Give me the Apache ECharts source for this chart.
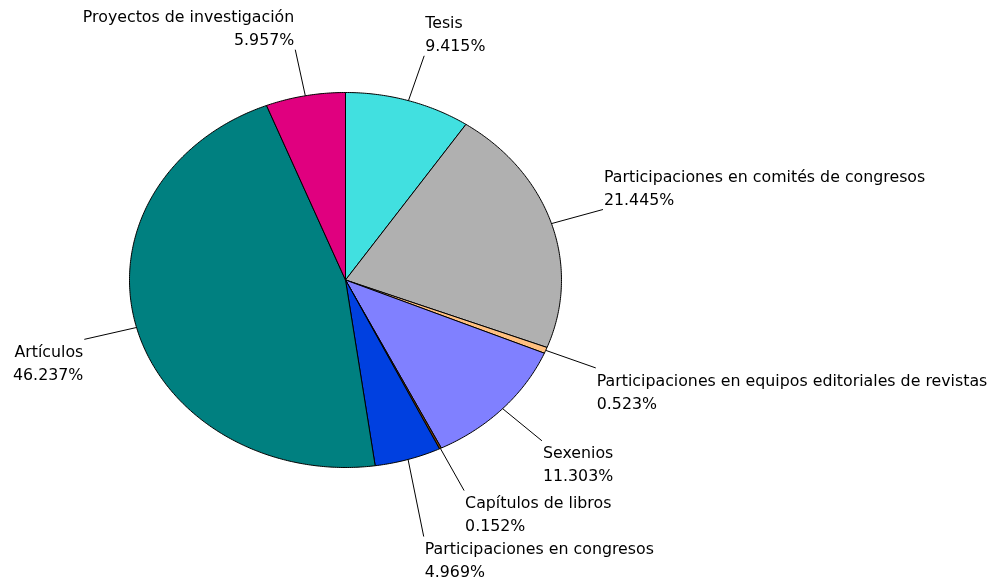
<!DOCTYPE html>
<html lang="es">
<head>
<meta charset="UTF-8">
<title>Distribución de méritos</title>
<script src="https://cdn.jsdelivr.net/npm/echarts@6/dist/echarts.min.js"></script>
<style>
    *{ margin:0; padding:0; }
    body{ background:#fff; }
    #main{ width:992px; height:577px; }
</style>
</head>
<body>
<div id="main"></div>
<script>
    // categorías en sentido horario, empezando a las 12
    var categories = [
        'Tesis',
        'Participaciones en comités de congresos',
        'Participaciones en equipos editoriales de revistas',
        'Sexenios',
        'Capítulos de libros',
        'Participaciones en congresos',
        'Artículos',
        'Proyectos de investigación'
    ];
    var shares = [9.415, 21.445, 0.523, 11.303, 0.152, 4.969, 46.237, 5.957];
    var palette = ['#41e0e0', '#b0b0b0', '#ffc080', '#8080ff', '#804000', '#0040e0', '#008080', '#e0007f'];

    // pastel elíptico (más ancho que alto)
    var cx = 345.5, cy = 280, rx = 216, ry = 187.5;
    var labelScale = 1.25, lineH = 23;
    var total = shares.reduce(function(a, b){ return a + b; }, 0);

    var starts = [], acc = 0;
    shares.forEach(function(v){ starts.push(acc / total * 2 * Math.PI); acc += v; });

    function pt(a, k){
        return [cx + rx * k * Math.sin(a), cy - ry * k * Math.cos(a)];
    }

    // posición de etiquetas
    var labels = shares.map(function(v, i){
        var mid = starts[i] + v / total * Math.PI;
        var p = pt(mid, labelScale);
        var upper = Math.cos(mid) > 0;
        return {
            edge: pt(mid, 1), x: p[0], y: p[1],
            right: Math.sin(mid) >= 0, upper: upper,
            top: upper ? p[1] - 2 * lineH : p[1]
        };
    });
    // evitar solapes en cada lado
    [true, false].forEach(function(side){
        var list = labels.filter(function(l){ return l.right === side; })
                         .sort(function(a, b){ return a.top - b.top; });
        for (var j = 1; j < list.length; j++) {
            var prevBottom = list[j - 1].top + 2 * lineH;
            if (list[j].top < prevBottom) {
                list[j].top = prevBottom;
                list[j].y = list[j].upper ? prevBottom + 2 * lineH : prevBottom;
            }
        }
    });

    function renderItem(params, api){
        var i = params.dataIndex;
        var a0 = starts[i], a1 = a0 + api.value(0) / total * 2 * Math.PI;
        var n = Math.max(2, Math.ceil((a1 - a0) / 0.01));
        var pts = [[cx, cy]];
        for (var k = 0; k <= n; k++) pts.push(pt(a0 + (a1 - a0) * k / n, 1));
        var L = labels[i];
        return {
            type: 'group',
            children: [
                { type: 'polygon', shape: { points: pts },
                  style: { fill: palette[i], stroke: '#000', lineWidth: 1 } },
                { type: 'line', z2: 10,
                  shape: { x1: L.edge[0], y1: L.edge[1], x2: L.x, y2: L.y },
                  style: { stroke: '#000', lineWidth: 1 } },
                { type: 'text', z2: 11,
                  style: {
                      x: L.right ? L.x + 1 : L.x - 1,
                      y: L.upper ? L.y + 3 : L.y + 2,
                      text: categories[i] + '\n' + api.value(0).toFixed(3) + '%',
                      font: '15.8px "DejaVu Sans"',
                      fill: '#000',
                      align: L.right ? 'left' : 'right',
                      verticalAlign: L.upper ? 'bottom' : 'top',
                      lineHeight: lineH
                  } }
            ]
        };
    }

    var myChart = echarts.init(document.getElementById('main'));
    myChart.setOption({
        backgroundColor: '#fff',
        animation: false,
        series: [{
            type: 'custom',
            coordinateSystem: 'none',
            silent: true,
            renderItem: renderItem,
            data: shares.map(function(v){ return [v]; })
        }]
    });
</script>
</body>
</html>
